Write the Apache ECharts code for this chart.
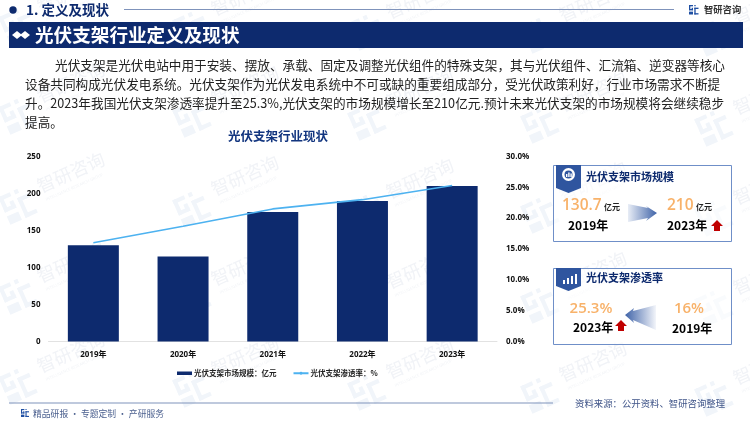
<!DOCTYPE html>
<html><head><meta charset="utf-8">
<style>html,body{margin:0;padding:0;background:#fff}#c{width:750px;height:421px}</style>
<script src="https://cdn.jsdelivr.net/npm/echarts@6/dist/echarts.min.js"></script>
</head><body><div id="c"></div>
<script>
const categories = ['2019年','2020年','2021年','2022年','2023年'];
const marketSize = [130, 115, 175, 190, 210];
const penetration = [16, 18.7, 21.5, 23, 25.3];
const sizeName = '光伏支架市场规模：亿元';
const rateName = '光伏支架渗透率：%';
const paragraph = [
  '光伏支架是光伏电站中用于安装、摆放、承载、固定及调整光伏组件的特殊支架，其与光伏组件、汇流箱、逆变器等核心',
  '设备共同构成光伏发电系统。光伏支架作为光伏发电系统中不可或缺的重要组成部分，受光伏政策利好，行业市场需求不断提',
  '升。2023年我国光伏支架渗透率提升至25.3%,光伏支架的市场规模增长至210亿元.预计未来光伏支架的市场规模将会继续稳步',
  '提高。'
];
const NAVY = '#0d2a6e', FONT = '"Noto Sans CJK SC","Noto Sans",sans-serif', LAT = '"Open Sans","Noto Sans CJK SC",sans-serif';
const g = [];
const txt = (x,y,text,size,fill,extra={}) => g.push({type:'text',x,y,z:extra.z||5,style:{text,fontSize:size,fill,fontFamily:extra.font||FONT,fontWeight:extra.w||'normal',textAlign:extra.a||'left',textVerticalAlign:'middle'}});
const rect = (x,y,w,h,fill,stroke,z=3,lw=1) => g.push({type:'rect',z,shape:{x,y,width:w,height:h},style:{fill,stroke,lineWidth:lw}});
const poly = (points,fill,z=4) => g.push({type:'polygon',z,shape:{points},style:{fill}});
const logo = (x,y,s,c,z,rot) => {
  const kids = [[0,0,.42,.14],[0,0,.14,.55],[0,.42,.42,.14],[.28,.28,.14,.28],[.56,0,.14,.14],[.56,.28,.44,.14],[.56,.28,.14,.72],[.56,.86,.44,.14],[0,.7,.42,.3]];
  g.push({type:'group',x,y,rotation:rot||0,z,children:kids.map(k=>({type:'rect',z,shape:{x:k[0]*s,y:k[1]*s,width:k[2]*s,height:k[3]*s},style:{fill:c}}))});
};
// watermarks
[25,115,205,295,385].forEach(ry=>{ [18,192,367,540,714].forEach((cx,c)=>{
  const cy=ry+c*3;
  logo(cx-19.8,cy-7.6,30,'#f1f5fa',0,0.42);
  g.push({type:'text',z:0,x:cx+20,y:cy-18,rotation:0.42,style:{text:'智研咨询',fontSize:18,fill:'#f1f3f7',fontFamily:FONT,textVerticalAlign:'middle'}});
  g.push({type:'text',z:0,x:cx+28,y:cy-5,rotation:0.42,style:{text:'INTELLIGENCE RESEARCH GROUP',fontSize:4,fill:'#f1f3f6',fontFamily:LAT,textVerticalAlign:'middle'}});
});});
// header
g.push({type:'circle',z:4,shape:{cx:13,cy:10,r:3.7},style:{fill:NAVY}});
txt(26,10,'1. 定义及现状',13.5,NAVY,{w:'bold'});
g.push({type:'line',z:3,shape:{x1:124,y1:9.5,x2:674,y2:9.5},style:{stroke:'#7f93bb',lineWidth:1}});
logo(689,5,9.5,'#1f4fa3',4,0);
txt(704,9.5,'智研咨询',9.3,'#333',{w:'bold'});
rect(9,22,734,26,NAVY,null,3,0);
poly([[12,35],[17,31],[22,35],[17,39]],'#fff');
poly([[20,35],[25,31],[30,35],[25,39]],'#fff');
txt(35,35,'光伏支架行业定义及现状',18.6,'#fff',{w:'bold'});
// paragraph
[[55,65],[25,84],[25,103],[25,122]].forEach((p,i)=>txt(p[0],p[1],paragraph[i],12.65,'#222'));
txt(278,136,'光伏支架行业现状',12.5,'#12357f',{w:'bold',a:'center'});
// panel 1
rect(553.5,165.5,178,76,'rgba(255,255,255,0.6)','#6f8fc8',2,1);
poly([[556,165],[581,165],[581,188],[568.5,193],[556,188]],'#2f559f');
g.push({type:'ring',z:5,shape:{cx:568.5,cy:174.5,r:6.5,r0:4},style:{fill:'#fff'}});
rect(566,174,1.4,3,'#fff',null,5,0);rect(568.2,172.5,1.4,4.5,'#fff',null,5,0);rect(570.4,173.5,1.4,3.5,'#fff',null,5,0);
txt(586,177,'光伏支架市场规模',11,NAVY,{w:'bold'});
txt(562,206,'130.7',15.5,'#f8b26a',{w:600,font:LAT});
txt(604,207,'亿元',8,'#222',{w:'bold'});
txt(667,206,'210',15.5,'#f8b26a',{w:600,font:LAT});
txt(696,207,'亿元',8,'#222',{w:'bold'});
txt(568,225,'2019年',12,'#000',{w:'bold'});
txt(667,225,'2023年',12,'#000',{w:'bold'});
const arrowFill=(a,b)=>({type:'linear',x:0,y:0,x2:1,y2:0,colorStops:[{offset:0,color:a},{offset:1,color:b}]});
g.push({type:'polygon',z:4,shape:{points:[[628,204],[648,208],[646,206],[657,213],[646,221],[648,218],[628,222]]},style:{fill:arrowFill('#e8edf6','#3f63a8')}});
poly([[717,220],[723,226],[720,226],[720,231],[714,231],[714,226],[711,226]],'#c00000');
// panel 2
rect(553.5,268.5,178,76,'rgba(255,255,255,0.6)','#6f8fc8',2,1);
poly([[556,268],[581,268],[581,286],[568.5,291],[556,286]],'#2f559f');
rect(563,280,2,4,'#fff',null,5,0);rect(567,278,2,6,'#fff',null,5,0);rect(571,276,2,8,'#fff',null,5,0);rect(575,274,2,10,'#fff',null,5,0);
txt(586,278,'光伏支架渗透率',11,NAVY,{w:'bold'});
txt(591,309,'25.3%',15,'#f8b26a',{w:600,font:LAT,a:'center'});
txt(689,309,'16%',15,'#f8b26a',{w:600,font:LAT,a:'center'});
txt(573,327,'2023年',12,'#000',{w:'bold'});
txt(672,328,'2019年',12,'#000',{w:'bold'});
g.push({type:'polygon',z:4,shape:{points:[[625,315],[634,308],[633,311],[656,305],[656,330],[633,320],[634,323]]},style:{fill:arrowFill('#3f63a8','#f3f5fa')}});
poly([[621,320],[627,326],[624,326],[624,331],[618,331],[618,326],[615,326]],'#c00000');
// footer
g.push({type:'line',z:3,shape:{x1:9,y1:403,x2:553,y2:403},style:{stroke:'#7f93bb',lineWidth:1}});
logo(21,409,8,'#1f4fa3',4,0);
txt(33,414,'精品研报 · 专题定制 · 产研服务',8.8,'#4a5f8e');
txt(575,403,'资料来源：公开资料、智研咨询整理',9.4,'#3f5488');

const chart = echarts.init(document.getElementById('c'),null,{renderer:'canvas'});
const lab = {color:'#111',fontSize:8,fontWeight:'bold',fontFamily:LAT};
chart.setOption({
  animation:false,
  graphic:{elements:g},
  legend:{left:172,top:364.5,itemWidth:15,itemHeight:3.5,itemGap:16,data:[{name:sizeName,icon:'rect'},{name:rateName}],textStyle:{fontSize:7.5,fontWeight:'bold',color:'#222',fontFamily:FONT,padding:[0,0,0,-3]}},
  grid:{left:48.5,right:253,top:156.5,bottom:79.5},
  xAxis:{type:'category',data:categories,axisTick:{show:false},axisLine:{lineStyle:{color:'#e2e2e2'}},axisLabel:{...lab,margin:9}},
  yAxis:[
    {type:'value',min:0,max:250,interval:50,splitLine:{show:false},axisLine:{show:false},axisTick:{show:false},axisLabel:{...lab,margin:8}},
    {type:'value',min:0,max:30,interval:5,splitLine:{show:false},axisLine:{show:false},axisTick:{show:false},axisLabel:{...lab,margin:9,formatter:v=>v.toFixed(1)+'%'}}
  ],
  series:[
    {name:sizeName,type:'bar',data:marketSize,barWidth:51,itemStyle:{color:NAVY},z:2},
    {name:rateName,type:'line',yAxisIndex:1,data:penetration,showSymbol:false,symbol:'none',lineStyle:{color:'#4db2f0',width:1.6},itemStyle:{color:'#4db2f0'},z:3}
  ]
});
</script></body></html>
